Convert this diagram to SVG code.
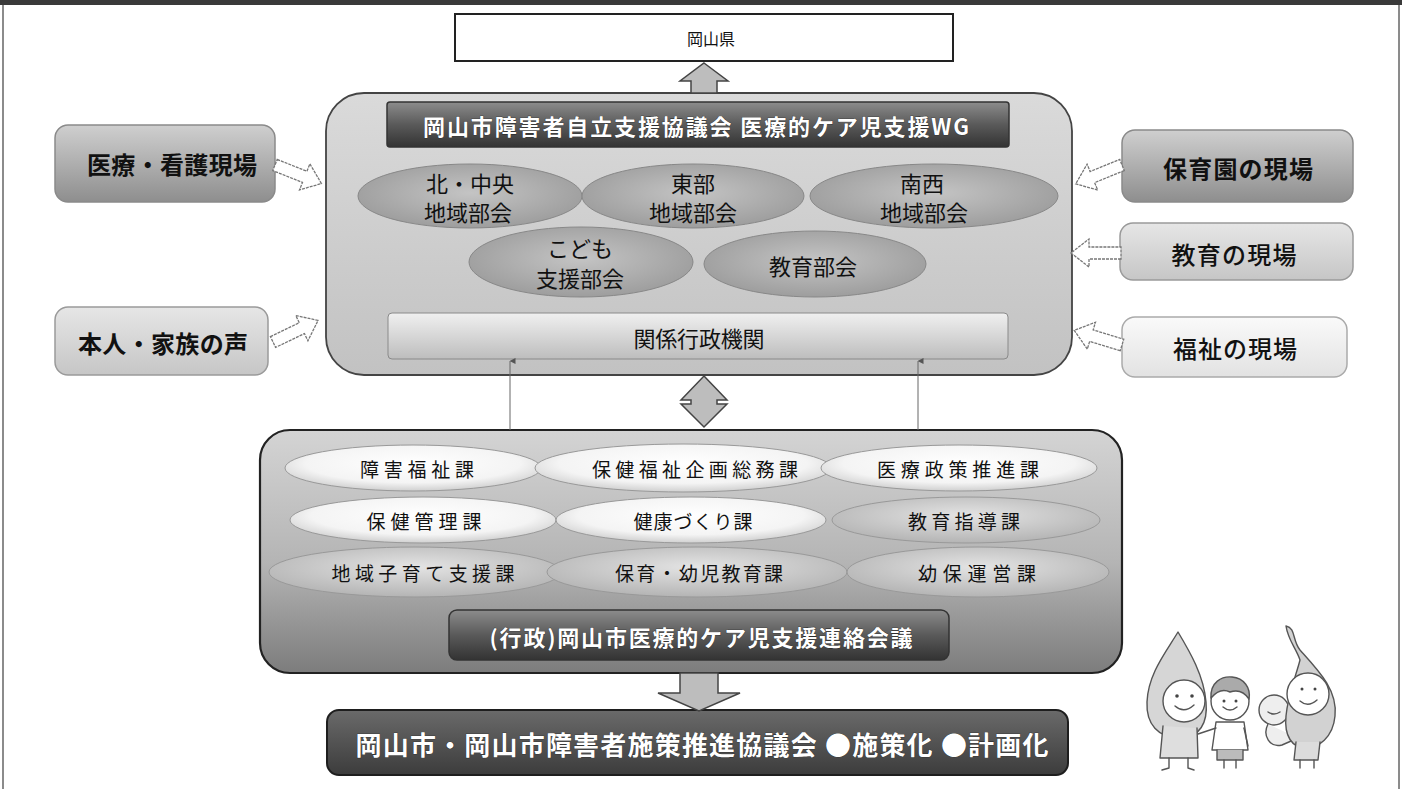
<svg xmlns="http://www.w3.org/2000/svg" width="1402" height="789" viewBox="0 0 1402 789">
  <defs>
    <linearGradient id="gPanel" x1="0" y1="0" x2="0" y2="1">
      <stop offset="0" stop-color="#dadada"/>
      <stop offset="1" stop-color="#c2c2c2"/>
    </linearGradient>
    <linearGradient id="gLower" x1="0" y1="0" x2="0" y2="1">
      <stop offset="0" stop-color="#d4d4d4"/>
      <stop offset="0.55" stop-color="#b4b4b4"/>
      <stop offset="1" stop-color="#7c7c7c"/>
    </linearGradient>
    <linearGradient id="gDark" x1="0" y1="0" x2="0" y2="1">
      <stop offset="0" stop-color="#8c8c8c"/>
      <stop offset="0.5" stop-color="#5a5a5a"/>
      <stop offset="1" stop-color="#333"/>
    </linearGradient>
    <linearGradient id="gBanner" x1="0" y1="0" x2="0" y2="1">
      <stop offset="0" stop-color="#6a6a6a"/>
      <stop offset="1" stop-color="#3c3c3c"/>
    </linearGradient>
    <linearGradient id="gLight" x1="0" y1="0" x2="0" y2="1">
      <stop offset="0" stop-color="#f0f0f0"/>
      <stop offset="1" stop-color="#bdbdbd"/>
    </linearGradient>
    <linearGradient id="gSideDark" x1="0" y1="0" x2="0" y2="1">
      <stop offset="0" stop-color="#cfcfcf"/>
      <stop offset="1" stop-color="#8e8e8e"/>
    </linearGradient>
    <linearGradient id="gSideMid" x1="0" y1="0" x2="0" y2="1">
      <stop offset="0" stop-color="#e6e6e6"/>
      <stop offset="1" stop-color="#c6c6c6"/>
    </linearGradient>
    <linearGradient id="gSideWhite" x1="0" y1="0" x2="0" y2="1">
      <stop offset="0" stop-color="#fafafa"/>
      <stop offset="1" stop-color="#e2e2e2"/>
    </linearGradient>
    <radialGradient id="gOval" cx="0.5" cy="0.45" r="0.6">
      <stop offset="0" stop-color="#c4c4c4"/>
      <stop offset="1" stop-color="#9a9a9a"/>
    </radialGradient>
    <radialGradient id="gOvalWhite" cx="0.5" cy="0.4" r="0.6">
      <stop offset="0" stop-color="#ffffff"/>
      <stop offset="0.7" stop-color="#f4f4f4"/>
      <stop offset="1" stop-color="#d0d0d0"/>
    </radialGradient>
    <radialGradient id="gOvalGrey" cx="0.5" cy="0.4" r="0.6">
      <stop offset="0" stop-color="#e4e4e4"/>
      <stop offset="1" stop-color="#b4b4b4"/>
    </radialGradient>
    <marker id="tip" viewBox="0 0 6 6" refX="3" refY="0.5" markerWidth="6" markerHeight="6" orient="auto-start-reverse" markerUnits="userSpaceOnUse">
      <path d="M0,6 L3,0 L6,6 Z" fill="#555"/>
    </marker>
    <!-- hollow block arrow pointing along +x, tip at x=50 -->
    <path id="hollow" d="M0,-6 L32,-6 L32,-14 L50,0 L32,14 L32,6 L0,6 Z"/>
  </defs>
  <style>
    text { font-family: "Noto Sans CJK JP", "Noto Sans", sans-serif; text-anchor: middle; dominant-baseline: central; }
    .frame { fill: #fff; stroke: #666; stroke-width: 1.5; }
    .pref { fill: #fff; stroke: #222; stroke-width: 2; }
    .panel { fill: url(#gPanel); stroke: #444; stroke-width: 1.8; }
    .lower { fill: url(#gLower); stroke: #222; stroke-width: 2.2; }
    .darkbar { fill: url(#gDark); stroke: #333; stroke-width: 1.5; }
    .lightbar { fill: url(#gLight); stroke: #8a8a8a; stroke-width: 1; }
    .banner { fill: url(#gBanner); stroke: #1e1e1e; stroke-width: 2; }
    .oval { fill: url(#gOval); stroke: #888; stroke-width: 1; }
    .ovalW { fill: url(#gOvalWhite); stroke: #999; stroke-width: 1; }
    .ovalG { fill: url(#gOvalGrey); stroke: #999; stroke-width: 1; }
    .sideDark { fill: url(#gSideDark); stroke: #8a8a8a; stroke-width: 1.5; }
    .sideMid { fill: url(#gSideMid); stroke: #9a9a9a; stroke-width: 1.5; }
    .sideWhite { fill: url(#gSideWhite); stroke: #aaa; stroke-width: 1.5; }
    .hollow { fill: #fff; stroke: #777; stroke-width: 1.3; stroke-dasharray: 3 1; }
    .block { fill: #bdbdbd; stroke: #444; stroke-width: 1.5; }
    .thin { stroke: #666; stroke-width: 1; fill: none; }
    .tw { fill: #fff; font-weight: 700; stroke: #222; stroke-width: 0.6; paint-order: stroke; }
    .tb { fill: #111; }
    .bold { font-weight: 700; }
    .art { fill: none; stroke: #555; stroke-width: 1.4; stroke-linecap: round; stroke-linejoin: round; }
  </style>

  <!-- page frame -->
  <rect class="frame" x="3" y="3" width="1396" height="790"/>
  <rect x="0" y="0" width="1402" height="5" fill="#3a3a3a"/>

  <!-- prefecture -->
  <g id="pref">
    <rect class="pref" x="455" y="14" width="498" height="47"/>
    <text x="711" y="38" font-size="16" class="tb">岡山県</text>
  </g>

  <!-- council working group panel -->
  <g id="wg">
    <rect class="panel" x="326" y="93" width="746" height="282" rx="38"/>
    <rect class="darkbar" x="387" y="102" width="622" height="45" rx="3"/>
    <text x="696" y="125" font-size="22" class="tw" textLength="546" lengthAdjust="spacing">岡山市障害者自立支援協議会 医療的ケア児支援WG</text>
  </g>
  <g id="north">
    <ellipse class="oval" cx="470" cy="196" rx="112" ry="32"/>
    <text x="470" y="182" font-size="22" class="tb">北・中央</text>
    <text x="468" y="211" font-size="22" class="tb">地域部会</text>
  </g>
  <g id="east">
    <ellipse class="oval" cx="693" cy="196" rx="111" ry="32"/>
    <text x="693" y="182" font-size="22" class="tb">東部</text>
    <text x="693" y="211" font-size="22" class="tb">地域部会</text>
  </g>
  <g id="southwest">
    <ellipse class="oval" cx="934" cy="196" rx="124" ry="32"/>
    <text x="922" y="182" font-size="22" class="tb">南西</text>
    <text x="924" y="211" font-size="22" class="tb">地域部会</text>
  </g>
  <g id="children">
    <ellipse class="oval" cx="581" cy="262" rx="112" ry="35"/>
    <text x="580" y="247" font-size="22" class="tb">こども</text>
    <text x="580" y="277" font-size="22" class="tb">支援部会</text>
  </g>
  <g id="education">
    <ellipse class="oval" cx="815" cy="264" rx="111" ry="33"/>
    <text x="813" y="265" font-size="22" class="tb">教育部会</text>
  </g>
  <g id="agencies">
    <rect class="lightbar" x="388" y="313" width="620" height="46" rx="4"/>
    <text x="699" y="337" font-size="22" class="tb" textLength="131" lengthAdjust="spacing">関係行政機関</text>
  </g>

  <!-- field inputs -->
  <g id="medical">
    <rect class="sideDark" x="55" y="125" width="220" height="77" rx="13"/>
    <text x="172" y="163" font-size="24" class="tb bold" textLength="170" lengthAdjust="spacing">医療・看護現場</text>
  </g>
  <g id="family">
    <rect class="sideMid" x="55" y="307" width="213" height="68" rx="13"/>
    <text x="163" y="342" font-size="24" class="tb bold" textLength="170" lengthAdjust="spacing">本人・家族の声</text>
  </g>
  <g id="nursery">
    <rect class="sideDark" x="1122" y="130" width="231" height="72" rx="13"/>
    <text x="1238" y="167" font-size="24" class="tb bold" textLength="150" lengthAdjust="spacing">保育園の現場</text>
  </g>
  <g id="school">
    <rect class="sideMid" x="1120" y="223" width="233" height="57" rx="13"/>
    <text x="1234" y="253" font-size="24" class="tb" font-weight="500" textLength="125" lengthAdjust="spacing">教育の現場</text>
  </g>
  <g id="welfare">
    <rect class="sideWhite" x="1122" y="317" width="225" height="60" rx="13"/>
    <text x="1235" y="347" font-size="24" class="tb" font-weight="500" textLength="124" lengthAdjust="spacing">福祉の現場</text>
  </g>

  <!-- city departments panel -->
  <g id="city">
    <rect class="lower" x="260" y="430" width="862" height="243" rx="30"/>
  </g>
  <g id="dept-disability">
    <ellipse class="ovalW" cx="413" cy="468" rx="128" ry="23"/>
    <text x="417" y="468" font-size="19" class="tb" textLength="114" lengthAdjust="spacing">障害福祉課</text>
  </g>
  <g id="dept-planning">
    <ellipse class="ovalW" cx="683" cy="468" rx="148" ry="24"/>
    <text x="695" y="468" font-size="19" class="tb" textLength="206" lengthAdjust="spacing">保健福祉企画総務課</text>
  </g>
  <g id="dept-medpolicy">
    <ellipse class="ovalW" cx="959" cy="468" rx="138" ry="23"/>
    <text x="958" y="468" font-size="19" class="tb" textLength="162" lengthAdjust="spacing">医療政策推進課</text>
  </g>
  <g id="dept-health">
    <ellipse class="ovalW" cx="423" cy="520" rx="133" ry="23"/>
    <text x="424" y="520" font-size="19" class="tb" textLength="115" lengthAdjust="spacing">保健管理課</text>
  </g>
  <g id="dept-wellness">
    <ellipse class="ovalW" cx="691" cy="520" rx="135" ry="23"/>
    <text x="693" y="520" font-size="19" class="tb" textLength="119" lengthAdjust="spacing">健康づくり課</text>
  </g>
  <g id="dept-guidance">
    <ellipse class="ovalG" cx="966" cy="520" rx="134" ry="23"/>
    <text x="964" y="520" font-size="19" class="tb" textLength="112" lengthAdjust="spacing">教育指導課</text>
  </g>
  <g id="dept-childcare">
    <ellipse class="ovalG" cx="415" cy="572" rx="146" ry="25"/>
    <text x="423" y="572" font-size="19" class="tb" textLength="183" lengthAdjust="spacing">地域子育て支援課</text>
  </g>
  <g id="dept-preschool">
    <ellipse class="ovalG" cx="697" cy="572" rx="150" ry="25"/>
    <text x="699" y="572" font-size="19" class="tb" textLength="168" lengthAdjust="spacing">保育・幼児教育課</text>
  </g>
  <g id="dept-operation">
    <ellipse class="ovalG" cx="978" cy="572" rx="131" ry="25"/>
    <text x="977" y="572" font-size="19" class="tb" textLength="118" lengthAdjust="spacing">幼保運営課</text>
  </g>
  <g id="liaison">
    <rect class="darkbar" x="449" y="610" width="500" height="50" rx="8"/>
    <text x="701" y="636" font-size="22" class="tw" textLength="423" lengthAdjust="spacing">(行政)岡山市医療的ケア児支援連絡会議</text>
  </g>

  <!-- policy council -->
  <g id="policy">
    <rect class="banner" x="327" y="710" width="741" height="65" rx="12"/>
    <text x="702" y="743" font-size="26" class="tw" textLength="693" lengthAdjust="spacing">岡山市・岡山市障害者施策推進協議会 ●施策化 ●計画化</text>
  </g>

  <!-- connectors -->
  <g id="connectors">
    <path class="block" d="M704,63 L728,81 L717,81 L717,93 L691,93 L691,81 L680,81 Z"/>
    <path class="block" d="M704,376 L727,400 L717,400 L717,404 L727,404 L704,427 L681,404 L691,404 L691,400 L681,400 Z"/>
    <path class="block" d="M680,673 L718,673 L718,693 L740,693 L699,711 L658,693 L680,693 Z"/>
    <line class="thin" x1="510" y1="430" x2="510" y2="361" marker-end="url(#tip)"/>
    <line class="thin" x1="918" y1="430" x2="918" y2="361" marker-end="url(#tip)"/>
    <use href="#hollow" class="hollow" transform="translate(275,165) rotate(21.8)"/>
    <use href="#hollow" class="hollow" transform="translate(273,342) rotate(-25.6)"/>
    <use href="#hollow" class="hollow" transform="translate(1122,165) rotate(157.8)"/>
    <use href="#hollow" class="hollow" transform="translate(1121,253) rotate(180)"/>
    <use href="#hollow" class="hollow" transform="translate(1122,345) rotate(197)"/>
  </g>

  <!-- mascots with children -->
  <g id="mascots">
    <!-- left drop character -->
    <path class="art" style="fill:#d6d6d6" d="M1178,632 C1166,652 1148,674 1147,702 C1146,724 1158,738 1180,738 C1200,738 1208,722 1206,702 C1204,676 1190,652 1178,632 Z"/>
    <circle class="art" cx="1184" cy="701" r="21" style="fill:#fff"/>
    <circle cx="1177" cy="696" r="1.8" fill="#444"/>
    <circle cx="1192" cy="696" r="1.8" fill="#444"/>
    <path class="art" d="M1175,706 Q1184,714 1194,705"/>
    <path class="art" style="fill:#dedede" d="M1163,726 L1160,758 L1198,758 L1197,728"/>
    <path class="art" d="M1169,758 L1169,768 L1162,770 M1188,758 L1188,768 L1194,770"/>
    <!-- boy -->
    <path class="art" style="fill:#fff" d="M1216,722 L1212,750 L1248,750 L1244,722 Z"/>
    <path class="art" style="fill:#bbb" d="M1217,750 L1217,760 L1243,760 L1243,750"/>
    <path class="art" d="M1224,760 L1224,768 M1236,760 L1236,768"/>
    <path class="art" d="M1216,728 L1198,734"/>
    <path class="art" d="M1244,728 L1248,746"/>
    <circle class="art" cx="1230" cy="701" r="19" style="fill:#fff"/>
    <path class="art" style="fill:#aaa" d="M1211,698 C1210,682 1222,676 1232,677 C1244,678 1251,688 1249,699 C1243,690 1236,690 1230,692 C1222,688 1216,692 1211,698 Z"/>
    <circle cx="1224" cy="701" r="1.5" fill="#444"/>
    <circle cx="1236" cy="701" r="1.5" fill="#444"/>
    <path class="art" d="M1223,707 Q1230,713 1237,707"/>
    <!-- baby -->
    <circle class="art" cx="1274" cy="710" r="15" style="fill:#eee"/>
    <path class="art" d="M1268,712 Q1274,716 1280,712"/>
    <path class="art" style="fill:#eee" d="M1268,724 C1262,736 1270,748 1282,745 L1298,738"/>
    <!-- right drop character -->
    <path class="art" style="fill:#d2d2d2" d="M1286,626 C1296,628 1292,640 1300,650 C1318,670 1338,690 1335,716 C1333,738 1318,748 1306,748 C1292,748 1284,736 1286,716 C1288,694 1296,676 1300,660 C1296,648 1288,640 1286,626 Z"/>
    <circle class="art" cx="1308" cy="694" r="21" style="fill:#fff"/>
    <circle cx="1302" cy="689" r="1.5" fill="#444"/>
    <circle cx="1315" cy="689" r="1.5" fill="#444"/>
    <path class="art" d="M1300,701 Q1308,708 1317,700"/>
    <path class="art" style="fill:#dcdcdc" d="M1296,742 L1294,760 L1318,760 L1320,742"/>
    <path class="art" d="M1300,760 L1300,768 M1314,760 L1314,768"/>
  </g>
</svg>
